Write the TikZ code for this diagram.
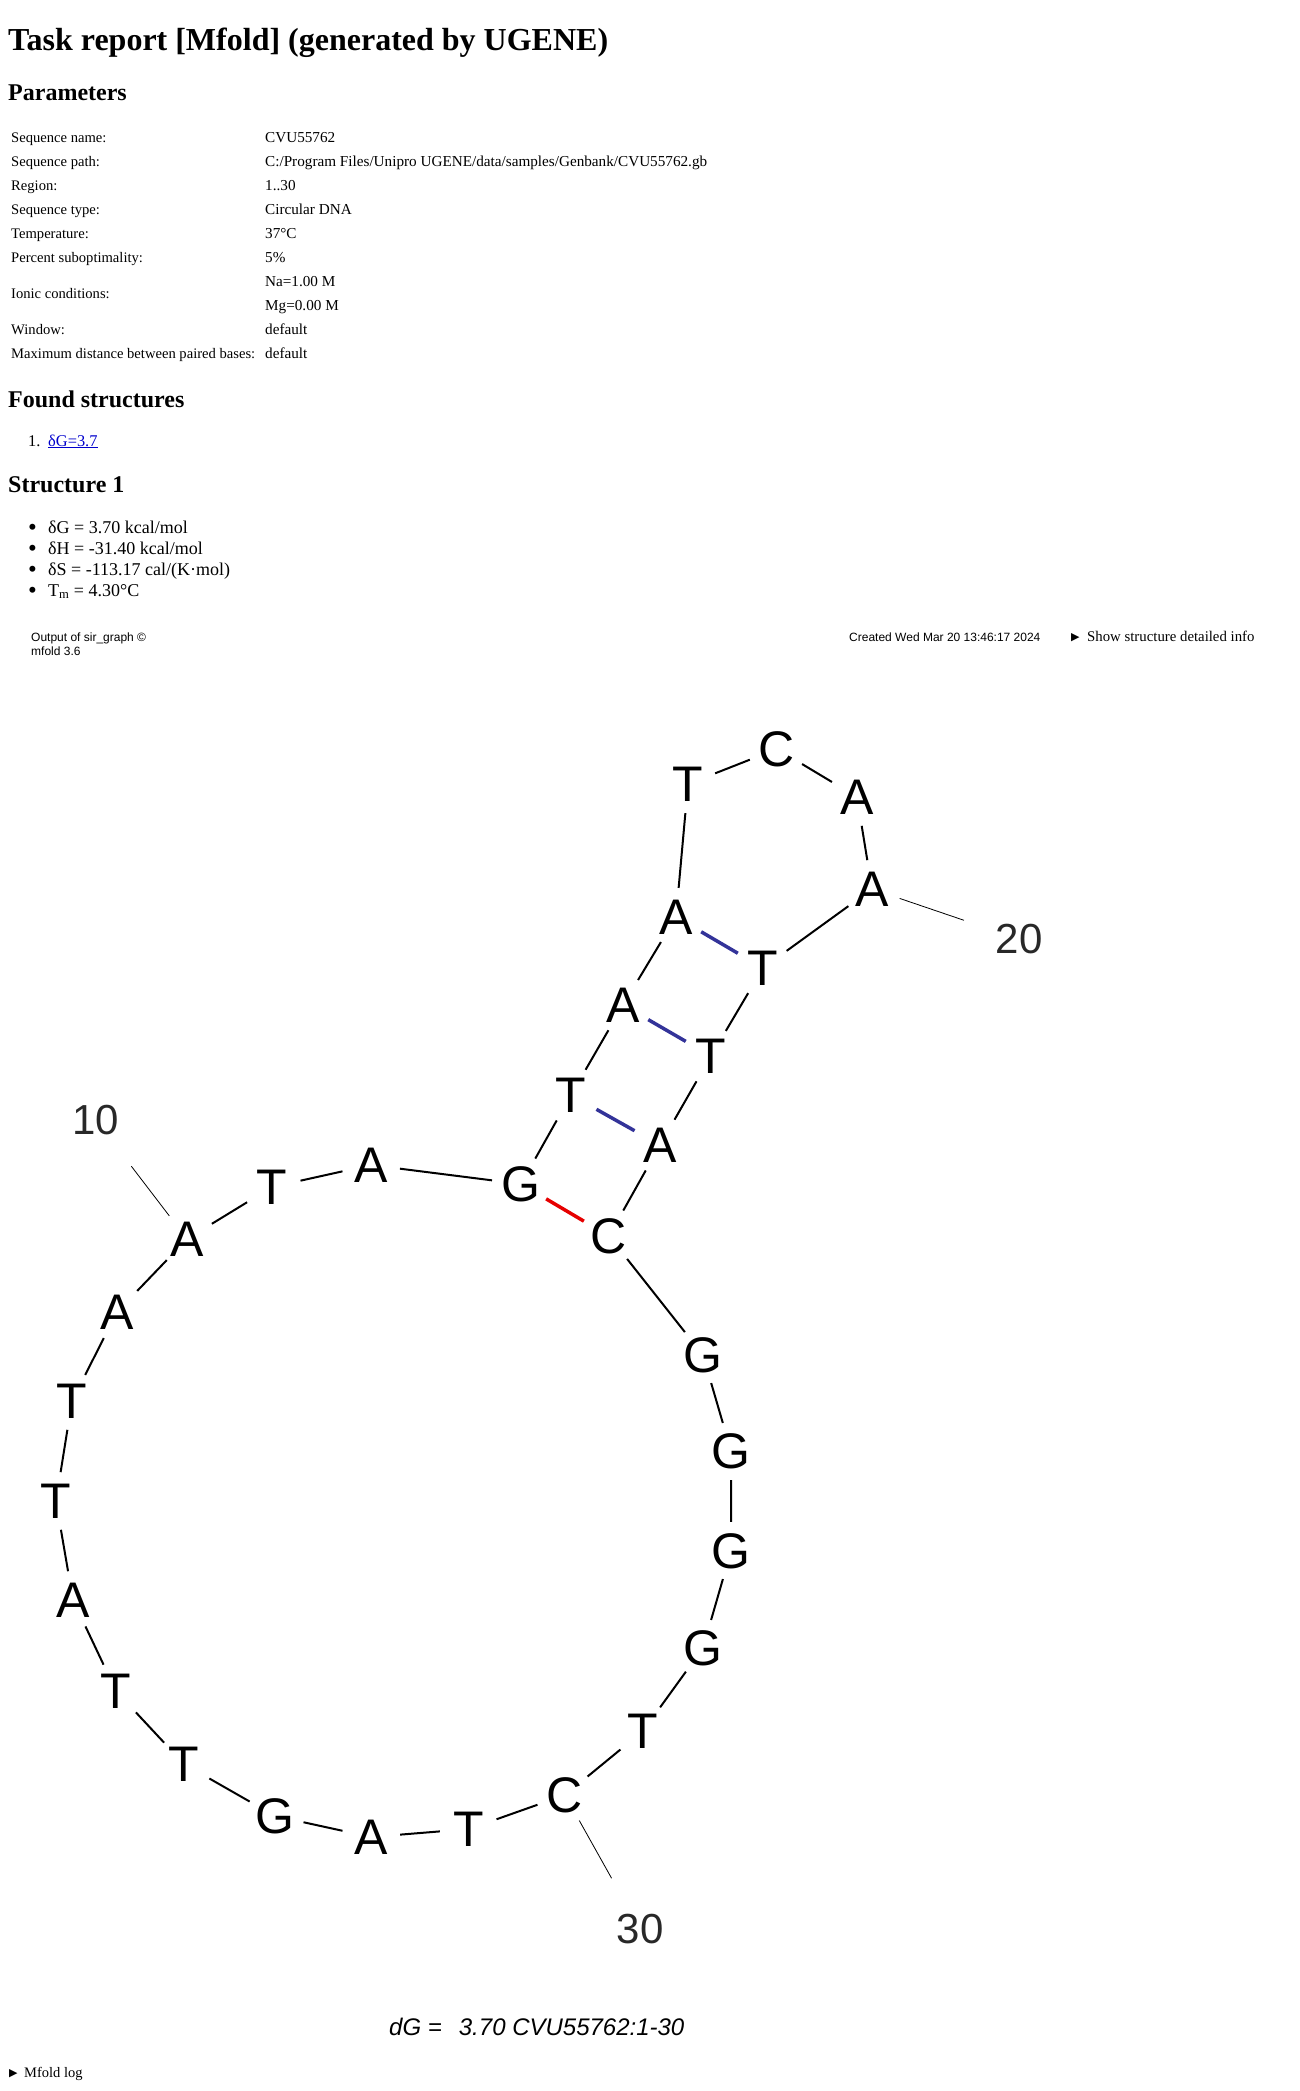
\documentclass[tikz,border=0pt]{standalone}
\usepackage{fontspec}
\setmainfont{Liberation Serif}
\setsansfont{Liberation Sans}
\newfontfamily\symfont{DejaVu Sans}
\usepackage{xcolor}
\definecolor{pairblue}{RGB}{51,51,153}
\definecolor{pairred}{RGB}{230,0,0}
\definecolor{linkblue}{RGB}{0,0,204}
\definecolor{numgray}{RGB}{40,40,40}
\usetikzlibrary{positioning}
\newcommand{\fsz}[1]{\fontsize{#1}{#1}\selectfont}

\begin{document}
\begin{tikzpicture}[x=1pt, y=-1pt,
    base/.style={circle, minimum size=58pt, inner sep=0pt, font=\sffamily\fsz{50}},
    numlbl/.style={circle, minimum size=116pt, inner sep=0pt, font=\sffamily\fsz{42}, numgray},
    backbone/.style={line width=2pt},
    pairAT/.style={line width=3.5pt, pairblue},
    pairGC/.style={line width=3.5pt, pairred},
    tick/.style={line width=0.8pt},
    txt/.style={anchor=base west, inner sep=0pt},
    key/.style={txt, font=\fsz{14.6}},
    cell/.style={txt, font=\fsz{15.2}},
    dot/.style={txt, font=\fsz{25}}]
  \useasboundingbox (0,0) rectangle (1300,2091);
  % Report header
  \node[txt, font=\bfseries\fsz{32}] (title) at (8,50) {Task report [Mfold] (generated by UGENE)};
  \node[txt, font=\bfseries\fsz{24}] (params) at (8,100) {Parameters};
  % Parameter table
  \node[key] (k1) at (11,142) {Sequence name:};
  \node[cell] (v1) at (265,142) {CVU55762};
  \node[key] (k2) at (11,166) {Sequence path:};
  \node[cell] (v2) at (265,166) {C:/Program Files/Unipro UGENE/data/samples/Genbank/CVU55762.gb};
  \node[key] (k3) at (11,190) {Region:};
  \node[cell] (v3) at (265,190) {1..30};
  \node[key] (k4) at (11,214) {Sequence type:};
  \node[cell] (v4) at (265,214) {Circular DNA};
  \node[key] (k5) at (11,238) {Temperature:};
  \node[cell] (v5) at (265,238) {37°C};
  \node[key] (k6) at (11,262) {Percent suboptimality:};
  \node[cell] (v6) at (265,262) {5\%};
  \node[key] (k7) at (11,298) {Ionic conditions:};
  \node[cell] (v7a) at (265,286) {Na=1.00 M};
  \node[cell] (v7b) at (265,310) {Mg=0.00 M};
  \node[key] (k8) at (11,334) {Window:};
  \node[cell] (v8) at (265,334) {default};
  \node[key] (k9) at (11,358) {Maximum distance between paired bases:};
  \node[cell] (v9) at (265,358) {default};
  % Found structures
  \node[txt, font=\bfseries\fsz{24}] (found) at (8,407) {Found structures};
  \node[txt, font=\fsz{16.4}] (num1) at (28,446) {1.};
  \node[txt, font=\fsz{16.4}, linkblue] (link1) at (48,446) {\underline{δG=3.7}};
  % Structure 1
  \node[txt, font=\bfseries\fsz{24}] (struct) at (8,492) {Structure 1};
  \node[dot] (b1) at (28,535) {•};
  \node[txt, font=\fsz{18}] (e1) at (48,533) {δG = 3.70 kcal/mol};
  \node[dot] (b2) at (28,556) {•};
  \node[txt, font=\fsz{18}] (e2) at (48,554) {δH = -31.40 kcal/mol};
  \node[dot] (b3) at (28,577) {•};
  \node[txt, font=\fsz{18}] (e3) at (48,575) {δS = -113.17 cal/(K·mol)};
  \node[dot] (b4) at (28,598) {•};
  \node[txt, font=\fsz{18}] (e4) at (48,596) {T\textsubscript{m} = 4.30°C};
  % Plot header
  \node[txt, font=\sffamily\fsz{12}] (out1) at (31,641) {Output of sir\_graph ©};
  \node[txt, font=\sffamily\fsz{12}] (out2) at (31,655) {mfold 3.6};
  \node[txt, font=\sffamily\fsz{12}] (created) at (849,641) {Created Wed Mar 20 13:46:17 2024};
  \node[txt, font=\symfont\fsz{11}] (tri1) at (1071,640) {▶};
  \node[txt, font=\fsz{14.8}] (show) at (1087,641) {Show structure detailed info};

  % Bases
  \node[base] (n1) at (469,1829) {T};
  \node[base] (n2) at (371,1837) {A};
  \node[base] (n3) at (275,1816) {G};
  \node[base] (n4) at (184,1764) {T};
  \node[base] (n5) at (116,1691) {T};
  \node[base] (n6) at (73,1600) {A};
  \node[base] (n7) at (56,1501) {T};
  \node[base] (n8) at (72,1401) {T};
  \node[base] (n9) at (117,1312) {A};
  \node[base] (n10) at (187,1239) {A};
  \node[base] (n11) at (272,1187) {T};
  \node[base] (n12) at (371,1165) {A};
  \node[base] (n13) at (521,1184) {G};
  \node[base] (n14) at (571,1095) {T};
  \node[base] (n15) at (623,1005) {A};
  \node[base] (n16) at (676,917) {A};
  \node[base] (n17) at (688,784) {T};
  \node[base] (n18) at (777,749) {C};
  \node[base] (n19) at (857,797) {A};
  \node[base] (n20) at (872,889) {A};
  \node[base] (n21) at (763,968) {T};
  \node[base] (n22) at (711,1056) {T};
  \node[base] (n23) at (660,1145) {A};
  \node[base] (n24) at (609,1236) {C};
  \node[base] (n25) at (703,1355) {G};
  \node[base] (n26) at (731,1451) {G};
  \node[base] (n27) at (731,1551) {G};
  \node[base] (n28) at (703,1648) {G};
  \node[base] (n29) at (643,1731) {T};
  \node[base] (n30) at (565,1795) {C};
  % Position numbers
  \node[numlbl] (lbl10) at (96,1120) {10};
  \node[numlbl] (lbl20) at (1019,939) {20};
  \node[numlbl] (lbl30) at (640,1929) {30};
  % Backbone
  \draw[backbone] (n1) -- (n2) (n2) -- (n3) (n3) -- (n4) (n4) -- (n5) (n5) -- (n6);
  \draw[backbone] (n6) -- (n7) (n7) -- (n8) (n8) -- (n9) (n9) -- (n10) (n10) -- (n11);
  \draw[backbone] (n11) -- (n12) (n12) -- (n13) (n13) -- (n14) (n14) -- (n15) (n15) -- (n16);
  \draw[backbone] (n16) -- (n17) (n17) -- (n18) (n18) -- (n19) (n19) -- (n20) (n20) -- (n21);
  \draw[backbone] (n21) -- (n22) (n22) -- (n23) (n23) -- (n24) (n24) -- (n25) (n25) -- (n26);
  \draw[backbone] (n26) -- (n27) (n27) -- (n28) (n28) -- (n29) (n29) -- (n30) (n30) -- (n1);
  % Base pairs
  \draw[pairGC] (n13) -- (n24);
  \draw[pairAT] (n14) -- (n23);
  \draw[pairAT] (n15) -- (n22);
  \draw[pairAT] (n16) -- (n21);
  % Number ticks
  \draw[tick] (n10) -- (lbl10);
  \draw[tick] (n20) -- (lbl20);
  \draw[tick] (n30) -- (lbl30);
  % Energy line
  \node[txt, font=\sffamily\itshape\fsz{24}] (energy) at (389,2035) {dG =\hspace{17pt}3.70 CVU55762:1-30};
  % Log toggle
  \node[txt, font=\symfont\fsz{11}] (tri2) at (9,2076) {▶};
  \node[txt, font=\fsz{14.5}] (log) at (24,2077) {Mfold log};
\end{tikzpicture}
\end{document}
